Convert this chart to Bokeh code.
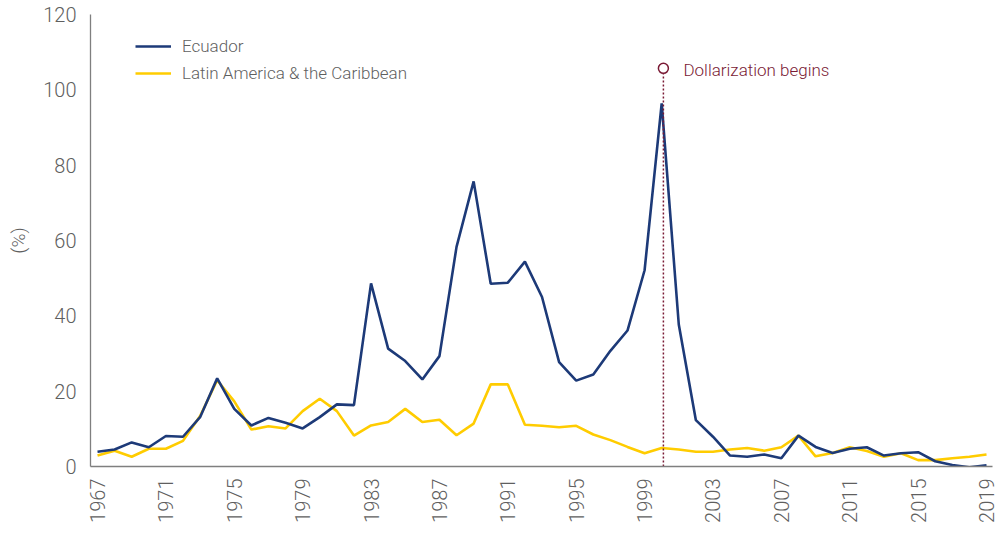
from bokeh.plotting import figure
from bokeh.models import Legend, LegendItem, FixedTicker, Range1d, ColumnDataSource
from bokeh.core.properties import value
from bokeh.embed import file_html
from bokeh.resources import INLINE

years = list(range(1967, 2020))
ecuador = [3.9, 4.5, 6.4, 5.1, 8.1, 7.9, 13.1, 23.4, 15.3, 10.9, 12.9, 11.6, 10.1, 13.1,
           16.5, 16.3, 48.6, 31.3, 28.0, 23.1, 29.3, 58.3, 75.7, 48.5, 48.8, 54.4, 45.0,
           27.7, 22.8, 24.4, 30.7, 36.1, 52.1, 96.4, 37.7, 12.3, 7.9, 2.9, 2.6, 3.2, 2.2,
           8.2, 5.2, 3.6, 4.7, 5.1, 2.9, 3.5, 3.8, 1.4, 0.4, -0.2, 0.3]
lac = [2.9, 4.2, 2.6, 4.7, 4.7, 6.8, 13.4, 22.9, 17.3, 9.8, 10.7, 10.1, 14.7, 18.0,
       14.7, 8.2, 10.9, 11.8, 15.3, 11.8, 12.4, 8.3, 11.4, 21.8, 21.8, 11.1, 10.8,
       10.4, 10.8, 8.5, 7.0, 5.2, 3.5, 4.9, 4.5, 3.9, 3.9, 4.5, 4.9, 4.2, 5.1,
       8.2, 2.7, 3.6, 5.1, 4.1, 2.6, 3.5, 1.7, 1.7, 2.2, 2.6, 3.2]
x_ticks = [1967, 1971, 1975, 1979, 1983, 1987, 1991, 1995, 1999, 2003, 2007, 2011, 2015, 2019]
y_ticks = [0, 20, 40, 60, 80, 100, 120]
series_names = ["Ecuador", "Latin America & the Caribbean"]
dollarization_year = [2000.1]
dollarization_level = [105.7]
dollarization_label = ["Dollarization begins"]

NAVY = "#1d3a78"
YELLOW = "#ffcc00"
RED = "#7a1a35"
GREY = "#5f5f5f"
FONT = "Roboto Light"

p = figure(width=1000, height=532, output_backend="svg", toolbar_location=None,
           x_range=Range1d(1966.59, 2019.35), y_range=Range1d(0, 120),
           min_border_left=90, min_border_top=14, min_border_bottom=66, min_border_right=8)
p.outline_line_color = None
p.xgrid.grid_line_color = None
p.ygrid.grid_line_color = None

src = ColumnDataSource(dict(year=years, ecu=ecuador, lac=lac))
r_lac = p.line("year", "lac", source=src, line_color=YELLOW, line_width=2.6)
r_ecu = p.line("year", "ecu", source=src, line_color=NAVY, line_width=2.6)

# Dollarization annotation
ann = ColumnDataSource(dict(x=dollarization_year, y=dollarization_level, y0=[0], t=dollarization_label))
p.segment(x0="x", y0="y0", x1="x", y1="y", source=ann, line_color=RED, line_width=1.5, line_dash="2 2")
p.scatter("x", "y", source=ann, marker="circle", size=10, fill_color="white", line_color=RED, line_width=1.5)
p.text("x", "y", text="t", source=ann, x_offset=20, y_offset=2, text_color=RED,
       text_font=value(FONT), text_font_size="17px", text_baseline="middle", text_align="left")

# Axes
p.xaxis.ticker = FixedTicker(ticks=x_ticks)
p.yaxis.ticker = FixedTicker(ticks=y_ticks)
p.xaxis.major_label_orientation = 1.5708
for ax in (p.xaxis[0], p.yaxis[0]):
    ax.axis_line_color = "#7f7f7f"
    ax.axis_line_width = 1.3
    ax.major_tick_line_color = None
    ax.minor_tick_line_color = None
    ax.major_tick_out = 0
    ax.major_tick_in = 0
    ax.major_label_text_font = FONT
    ax.major_label_text_font_size = "20px"
    ax.major_label_text_color = GREY
p.xaxis.major_label_standoff = 12
p.yaxis.major_label_standoff = 14
p.yaxis.axis_label = "(%)"
p.yaxis.axis_label_text_font = FONT
p.yaxis.axis_label_text_font_size = "19px"
p.yaxis.axis_label_text_font_style = "normal"
p.yaxis.axis_label_text_color = GREY
p.yaxis.axis_label_standoff = 10

legend = Legend(items=[LegendItem(label=series_names[0], renderers=[r_ecu]),
                       LegendItem(label=series_names[1], renderers=[r_lac])],
                location=(45, 381), padding=0, margin=0, spacing=3,
                glyph_width=36, glyph_height=24, label_height=24, label_standoff=11,
                label_text_font=FONT, label_text_font_size="17px", label_text_color=GREY,
                border_line_color=None, background_fill_alpha=0)
p.add_layout(legend)

open("out.html", "w").write(file_html(p, INLINE))
